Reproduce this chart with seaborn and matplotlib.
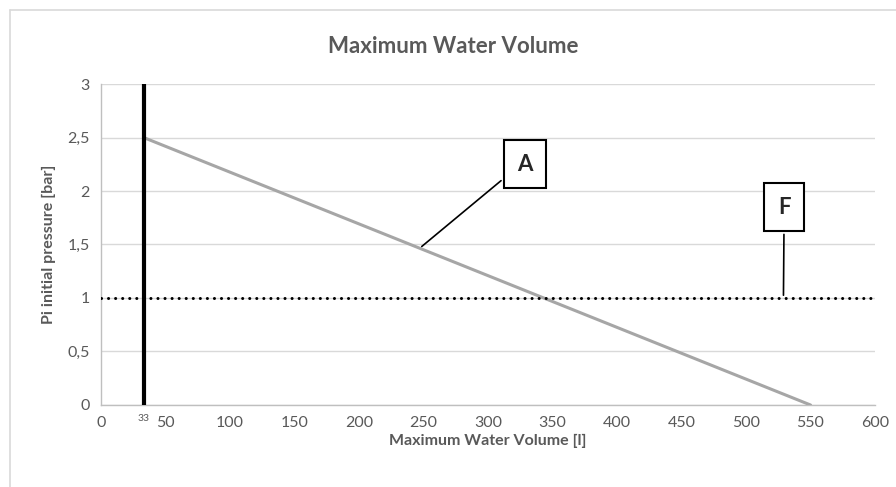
import numpy as np
import pandas as pd
import matplotlib
matplotlib.use("Agg")
import matplotlib.pyplot as plt
import seaborn as sns
from matplotlib.lines import Line2D

# dados do grafico
volume_a = [33, 550]
pressure_a = [2.5, 0]
volume_f = [0, 600]
pressure_f = [1, 1]
volume_min = 33
x_ticks = [0, 50, 100, 150, 200, 250, 300, 350, 400, 450, 500, 550, 600]
y_ticks = [0, 0.5, 1, 1.5, 2, 2.5, 3]
y_labels = ["0", "0,5", "1", "1,5", "2", "2,5", "3"]

sns.set_style("white")
plt.rcParams['font.family'] = ['Lato', 'DejaVu Sans']

grey = "#595959"

fig = plt.figure(figsize=(8.96, 4.87), dpi=100)
ax = fig.add_axes([0.1127, 0.1684, 0.8639, 0.6591])

df_a = pd.DataFrame({"Volume": volume_a, "Pressure": pressure_a})
df_f = pd.DataFrame({"Volume": volume_f, "Pressure": pressure_f})

sns.lineplot(data=df_a, x="Volume", y="Pressure", ax=ax, color="#A6A6A6", linewidth=2.2, zorder=3)
sns.lineplot(data=df_f, x="Volume", y="Pressure", ax=ax, color="black", linewidth=2.2,
             linestyle=(0, (0.01, 2.3)), dash_capstyle="round", zorder=4)
ax.axvline(volume_min, color="black", linewidth=3, zorder=5)

ax.set_xlim(0, 600)
ax.set_ylim(0, 3)
ax.set_xticks(x_ticks)
ax.set_yticks(y_ticks)
ax.set_yticklabels(y_labels)
ax.tick_params(axis="both", length=0, colors=grey, labelsize=11.5, pad=8)
ax.yaxis.grid(True, color="#D9D9D9", linewidth=1)
ax.xaxis.grid(False)
for s in ["top", "right"]:
    ax.spines[s].set_visible(False)
for s in ["left", "bottom"]:
    ax.spines[s].set_color("#BFBFBF")
    ax.spines[s].set_linewidth(1)

ax.set_xlabel("Maximum Water Volume [l]", fontsize=11.5, fontweight="bold", color=grey, labelpad=3)
ax.set_ylabel("Pi initial pressure [bar]", fontsize=11.5, fontweight="bold", color=grey, labelpad=8)
ax.set_title("Maximum Water Volume", fontsize=16, fontweight="bold", color=grey, pad=22, x=0.455)

# rotulo do volume minimo
ax.annotate(str(volume_min), xy=(volume_min, 0), xytext=(0, -10), textcoords="offset points",
            ha="center", va="center", fontsize=7.5, color=grey, annotation_clip=False)

# caixas A e F
box = dict(boxstyle="square,pad=0.6", fc="white", ec="black", lw=1.5)
ax.annotate("A", xy=(247, 1.465), xytext=(328.7, 2.252), fontsize=16, fontweight="bold",
            ha="center", va="center", bbox=box,
            arrowprops=dict(arrowstyle="-", color="black", lw=1.2, relpos=(0, 0.35)))
ax.annotate("F", xy=(529, 1.0), xytext=(529.5, 1.85), fontsize=16, fontweight="bold",
            ha="center", va="center", bbox=box,
            arrowprops=dict(arrowstyle="-", color="black", lw=1.2, relpos=(0.5, 0)))

# moldura externa
fig.add_artist(Line2D([10 / 896, 10 / 896], [0, 1 - 10 / 487], transform=fig.transFigure,
                      color="#D9D9D9", lw=1.2))
fig.add_artist(Line2D([10 / 896, 1], [1 - 10 / 487, 1 - 10 / 487], transform=fig.transFigure,
                      color="#D9D9D9", lw=1.2))

fig.savefig("out.png", dpi=100)
